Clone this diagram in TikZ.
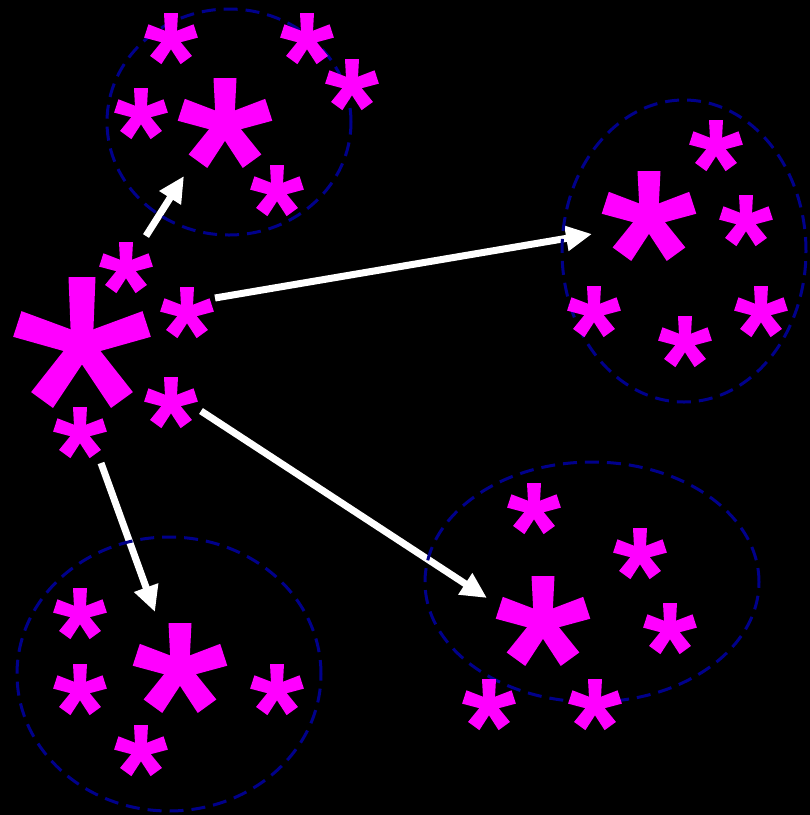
\documentclass[tikz,border=0pt]{standalone}
\usetikzlibrary{arrows.meta}
\definecolor{astcol}{RGB}{255,0,255}
\definecolor{ringcol}{RGB}{0,0,139}
\tikzset{
  pics/ast/.style 2 args={code={
    \foreach \a in {90,162,234,306,18}{
      \fill[astcol,rotate=\a] (0,-0.4*#2) -- (#1,-#2/2) -- (#1,#2/2) -- (0,0.4*#2) -- cycle;
    }
  }},
  ring/.style={draw=ringcol,line width=3pt,dash pattern=on 14pt off 8pt},
  link/.style={draw=white,line width=7pt,-{Triangle[length=26pt,width=24pt]}}
}
\begin{document}
\begin{tikzpicture}[x=1pt,y=-1pt]
\fill[black] (0,0) rectangle (810,815);
\useasboundingbox (0,0) rectangle (810,815);
% arrow end points
\coordinate (a1s) at (146,236); \coordinate (a1e) at (184,176);
\coordinate (a2s) at (215,298); \coordinate (a2e) at (592,234);
\coordinate (a3s) at (201,411); \coordinate (a3e) at (487,598);
\coordinate (a4s) at (101,463); \coordinate (a4e) at (155,612);
\draw[link] (a1s) -- (a1e);
\draw[link] (a2s) -- (a2e);
\draw[link] (a3s) -- (a3e);
\draw[link] (a4s) -- (a4e);
% clusters
\coordinate (cTop) at (229,122);
\coordinate (cRight) at (684,251);
\coordinate (cBR) at (592,582);
\coordinate (cBL) at (169,674);
\draw[ring] (cTop) ellipse [x radius=122pt, y radius=113pt];
\draw[ring] (cRight) ellipse [x radius=122pt, y radius=151pt];
\draw[ring] (cBR) ellipse [x radius=167pt, y radius=120pt];
\draw[ring] (cBL) ellipse [x radius=152pt, y radius=137pt];
% source
\pic at (82,345) {ast={68}{27}};
\foreach \p in {(126,268),(187,313),(171,403),(80,433)} \pic at \p {ast={26}{14}};
% top cluster
\pic at (225,124) {ast={46}{23}};
\foreach \p in {(171,39),(307,39),(352,85),(141,114),(277,191)} \pic at \p {ast={26}{14}};
% right cluster
\pic at (649,217) {ast={46}{23}};
\foreach \p in {(716,146),(746,221),(594,312),(685,342),(761,312)} \pic at \p {ast={26}{14}};
% bottom-right cluster
\pic at (543,622) {ast={46}{23}};
\foreach \p in {(534,509),(640,554),(670,629),(489,705),(595,705)} \pic at \p {ast={26}{14}};
% bottom-left cluster
\pic at (180,669) {ast={46}{23}};
\foreach \p in {(80,614),(80,690),(277,690),(141,751)} \pic at \p {ast={26}{14}};
\end{tikzpicture}
\end{document}
